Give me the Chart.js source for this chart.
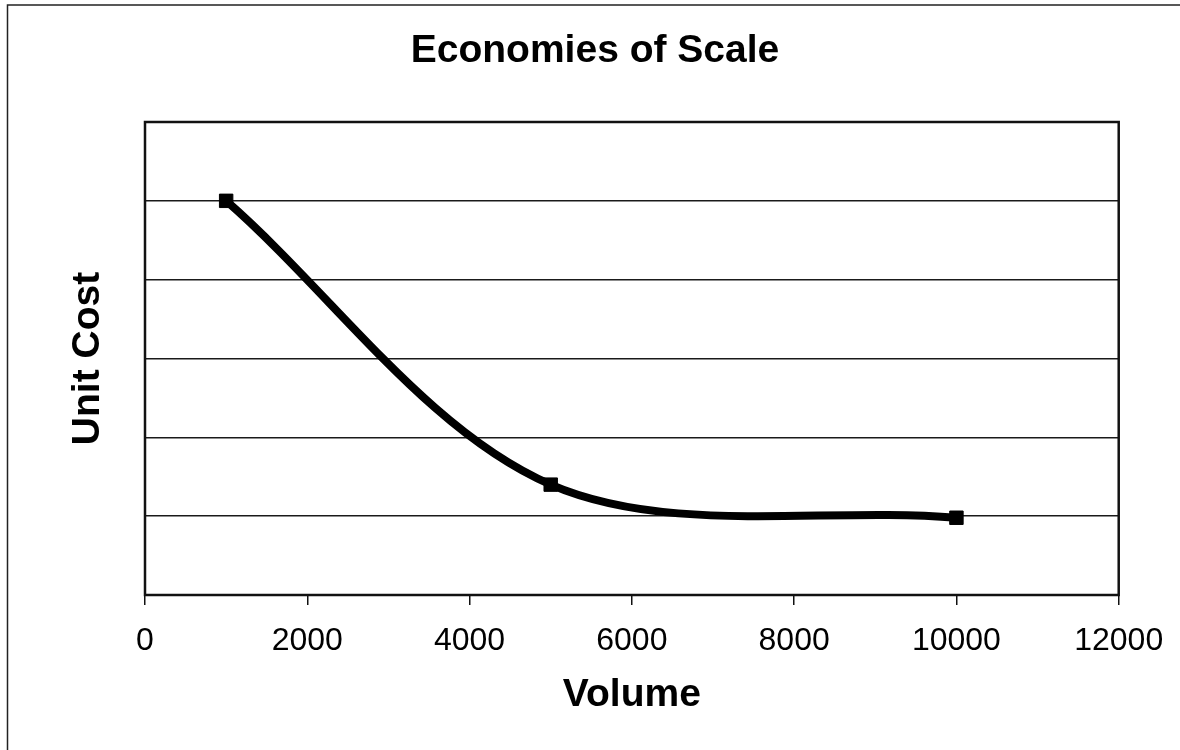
<!DOCTYPE html>
<html>
<head>
<meta charset="utf-8">
<title>Economies of Scale</title>
<script src="https://cdn.jsdelivr.net/npm/chart.js@4/dist/chart.umd.min.js"></script>
<style>
  html, body { margin: 0; padding: 0; background: #fff; }
  canvas { display: block; }
</style>
</head>
<body>
<canvas id="chart" width="1180" height="750"></canvas>
<script>
// Production volume and the resulting cost per unit
const volumes = [1000, 5000, 10000];
const unitCosts = [5, 1.4, 0.98];

// Axis ticks
const volumeTicks = [0, 2000, 4000, 6000, 8000, 10000, 12000];
const costGridValues = [0, 1, 2, 3, 4, 5, 6];

const chartTitle = 'Economies of Scale';
const xTitle = 'Volume';
const yTitle = 'Unit Cost';

const FONT = '"Liberation Sans", Arial, Helvetica, sans-serif';

// White page with a thin outer frame, plus a heavy frame around the plot area
const framePlugin = {
  id: 'frames',
  beforeDraw(chart) {
    const ctx = chart.ctx;
    ctx.save();
    ctx.fillStyle = '#fff';
    ctx.fillRect(0, 0, chart.width, chart.height);
    ctx.strokeStyle = '#222';
    ctx.lineWidth = 1.5;
    ctx.strokeRect(7.5, 5, chart.width + 20, chart.height + 20);
    ctx.restore();
  },
  beforeDatasetsDraw(chart) {
    const { ctx, chartArea: a } = chart;
    ctx.save();
    ctx.strokeStyle = '#111';
    ctx.lineWidth = 2.5;
    ctx.strokeRect(a.left, a.top, a.right - a.left, a.bottom - a.top);
    ctx.restore();
  }
};

new Chart(document.getElementById('chart'), {
  type: 'line',
  data: {
    datasets: [{
      data: volumes.map((v, i) => ({ x: v, y: unitCosts[i] })),
      borderColor: '#000',
      borderWidth: 8,
      tension: 0.33,
      fill: false,
      pointStyle: 'rect',
      pointRadius: 9.5,
      pointHoverRadius: 9.5,
      pointBackgroundColor: '#000',
      pointBorderColor: '#000',
      pointBorderWidth: 1
    }]
  },
  options: {
    responsive: false,
    animation: false,
    events: [],
    layout: { padding: { left: 10, right: 0, top: 0, bottom: 0 } },
    plugins: {
      legend: { display: false },
      tooltip: { enabled: false },
      title: {
        display: true,
        text: chartTitle,
        color: '#000',
        font: { family: FONT, size: 39, weight: 'bold' },
        padding: { top: 28, bottom: 47.2 }
      }
    },
    scales: {
      x: {
        type: 'linear',
        position: 'bottom',
        min: volumeTicks[0],
        max: volumeTicks[volumeTicks.length - 1],
        afterBuildTicks: s => { s.ticks = volumeTicks.map(v => ({ value: v })); },
        afterFit: s => { s.height = 155; },
        border: { display: false },
        grid: {
          drawOnChartArea: false,
          drawTicks: true,
          tickLength: 10,
          color: '#111',
          lineWidth: 1.5
        },
        ticks: {
          color: '#000',
          padding: 16.8,
          maxRotation: 0,
          font: { family: FONT, size: 32 },
          callback: v => String(v)
        },
        title: {
          display: true,
          text: xTitle,
          color: '#000',
          font: { family: FONT, size: 39, weight: 'bold' },
          padding: { top: 0, bottom: 31.6 }
        }
      },
      y: {
        type: 'linear',
        position: 'left',
        min: costGridValues[0],
        max: costGridValues[costGridValues.length - 1],
        afterBuildTicks: s => { s.ticks = costGridValues.map(v => ({ value: v })); },
        afterFit: s => { s.width = 135; },
        border: { display: false },
        grid: {
          drawTicks: false,
          color: '#1a1a1a',
          lineWidth: 1.4
        },
        ticks: { display: false },
        title: {
          display: true,
          text: yTitle,
          color: '#000',
          font: { family: FONT, size: 39, weight: 'bold' },
          padding: { top: 54.6, bottom: 0 }
        }
      },
      rightSpace: {
        type: 'linear',
        position: 'right',
        display: true,
        afterFit: s => { s.width = 61; },
        border: { display: false },
        grid: { display: false },
        ticks: { display: false }
      }
    }
  },
  plugins: [framePlugin]
});
</script>
</body>
</html>
